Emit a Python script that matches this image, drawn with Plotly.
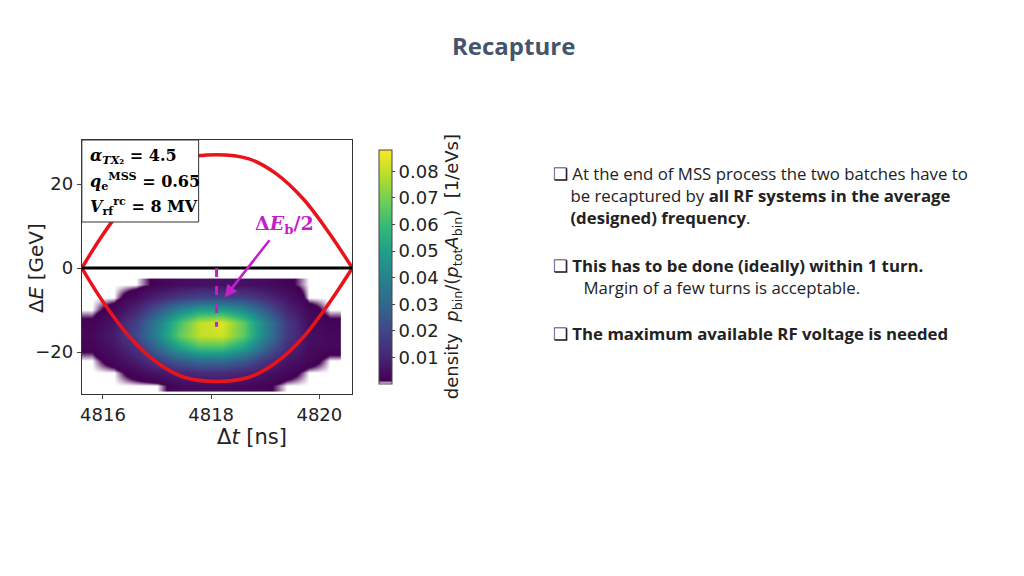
import plotly.graph_objects as go

t_bins = [4815.8,4816.2,4816.6,4817.0,4817.4,4817.8,4818.2,4818.6,4819.0,4819.4,4819.8,4820.2]
e_bins = [-28,-25,-22,-19,-16,-13,-10,-7,-4]
density = [
 [0,0,0,0,0.003,0.004,0.004,0.003,0.002,0,0,0],
 [0,0,0.003,0.006,0.010,0.012,0.012,0.010,0.006,0.003,0,0],
 [0,0.003,0.008,0.016,0.026,0.032,0.032,0.026,0.015,0.006,0.003,0],
 [0.002,0.006,0.014,0.030,0.050,0.062,0.062,0.050,0.030,0.012,0.004,0.003],
 [0.003,0.008,0.020,0.040,0.066,0.080,0.082,0.066,0.040,0.016,0.005,0.003],
 [0.002,0.006,0.018,0.038,0.062,0.080,0.084,0.066,0.040,0.016,0.004,0.002],
 [0,0.003,0.010,0.024,0.040,0.050,0.050,0.042,0.026,0.010,0.003,0],
 [0,0,0.004,0.010,0.016,0.020,0.020,0.018,0.012,0.006,0,0],
 [0,0,0,0.002,0.004,0.005,0.005,0.005,0.004,0.002,0,0],
]
sep_t = [4815.61,4816.0,4816.5,4817.0,4817.5,4818.1,4818.7,4819.2,4819.7,4820.2,4820.61]
sep_e = [0,8,16.5,22.5,26,27,26,22.5,16.5,8,0]
sep_e_low = [-v for v in sep_e]
eb_t = [4818.1,4818.1]
eb_e = [0,-14]
legend_lines = ["<b><i>α</i><sub><i>TX</i>₂</sub> = 4.5</b>",
                "<b><i>q</i><sub>e</sub><sup>MSS</sup> = 0.65</b>",
                "<b><i>V</i><sub>rf</sub><sup>rc</sup> = 8 MV</b>"]

OX, OY = 8, 8
def px(x): return (x-OX)/1024
def py(y): return 1-(y-OY)/576

vir = ["#440154","#482878","#3e4989","#31688e","#26828e","#1f9e89","#35b779","#6ece58","#b5de2b","#fde725"]
cs = [[0,"rgba(68,1,84,0)"],[0.015,"#440154"]] + [[0.015+0.985*i/9,c] for i,c in enumerate(vir)][1:]

fig = go.Figure()
fig.add_trace(go.Heatmap(x=t_bins,y=e_bins,z=density,colorscale=cs,zmin=0,zmax=0.088,
    zsmooth="best",
    colorbar=dict(x=px(368),xanchor="left",y=py(394),yanchor="bottom",len=254/576,lenmode="fraction",
        thickness=13,outlinewidth=1,tickvals=[0.01,0.02,0.03,0.04,0.05,0.06,0.07,0.08],
        tickfont=dict(size=18,family="DejaVu Sans",color="#222"),ticks="outside",ticklen=3)))
fig.add_trace(go.Scatter(x=sep_t,y=sep_e,mode="lines",line=dict(color="#E8141B",width=3.5,shape="spline"),showlegend=False))
fig.add_trace(go.Scatter(x=sep_t,y=sep_e_low,mode="lines",line=dict(color="#E8141B",width=3.5,shape="spline"),showlegend=False))
fig.add_trace(go.Scatter(x=[4815.61,4820.61],y=[0,0],mode="lines",line=dict(color="black",width=3),showlegend=False))
fig.add_trace(go.Scatter(x=eb_t,y=eb_e,mode="lines",line=dict(color="#C21FC8",width=3,dash="dash"),showlegend=False))

fig.add_annotation(x=4818.25,y=-7,ax=4819.1,ay=7,xref="x",yref="y",axref="x",ayref="y",
    showarrow=True,arrowhead=2,arrowwidth=2.5,arrowcolor="#C21FC8",text="")
fig.add_annotation(x=4819.35,y=7,xref="x",yref="y",text="<b>Δ<i>E</i><sub>b</sub>/2</b>",showarrow=False,
    font=dict(size=19,color="#C21FC8",family="DejaVu Serif"),yanchor="bottom")

fig.add_shape(type="rect",xref="paper",yref="paper",x0=px(80),x1=px(197),y0=py(222),y1=py(140),
    fillcolor="white",line=dict(color="#333",width=1),layer="above")
for i,(s,yy) in enumerate(zip(legend_lines,[156,181,206])):
    fig.add_annotation(x=px(86),y=py(yy),xref="paper",yref="paper",xanchor="left",yanchor="middle",
        text=s,showarrow=False,font=dict(size=16,family="DejaVu Serif",color="black"))

fig.add_annotation(x=px(512),y=py(45),xref="paper",yref="paper",text="<b>Recapture</b>",showarrow=False,
    yanchor="middle",font=dict(size=24,color="#44546A",family="Open Sans"))
fig.add_annotation(x=px(452),y=py(267),xref="paper",yref="paper",textangle=-90,showarrow=False,yanchor="middle",
    text="density  <i>p</i><sub>bin</sub>/(<i>p</i><sub>tot</sub><i>A</i><sub>bin</sub>)  [1/eVs]",
    font=dict(size=18,family="DejaVu Sans",color="#222"))
fig.add_annotation(x=px(20),y=py(268),xref="paper",yref="paper",textangle=-90,showarrow=False,yanchor="middle",
    text="Δ<i>E</i> [GeV]",font=dict(size=20,family="DejaVu Sans",color="#222"))
fig.add_annotation(x=px(213),y=py(437),xref="paper",yref="paper",showarrow=False,yanchor="middle",
    text="Δ<i>t</i> [ns]",font=dict(size=21,family="DejaVu Sans",color="#222"))

bf = dict(size=16.8,family="Open Sans",color="#222")
fig.add_annotation(x=px(550),y=py(160),xref="paper",yref="paper",xanchor="left",yanchor="top",align="left",showarrow=False,font=bf,
    text="❑ At the end of MSS process the two batches have to<br>    be recaptured by <b>all RF systems in the average</b><br>    <b>(designed) frequency</b>.")
fig.add_annotation(x=px(550),y=py(252),xref="paper",yref="paper",xanchor="left",yanchor="top",align="left",showarrow=False,font=bf,
    text="❑ <b>This has to be done (ideally) within 1 turn.</b><br>       Margin of a few turns is acceptable.")
fig.add_annotation(x=px(550),y=py(320),xref="paper",yref="paper",xanchor="left",yanchor="top",align="left",showarrow=False,font=bf,
    text="❑ <b>The maximum available RF voltage is needed</b>")

ax = dict(showgrid=False,zeroline=False,mirror=True,showline=True,linecolor="#333",linewidth=1,
    ticks="outside",ticklen=4,tickfont=dict(size=18,family="DejaVu Sans",color="#222"))
fig.update_layout(width=1024,height=576,margin=dict(l=0,r=0,t=0,b=0),plot_bgcolor="white",paper_bgcolor="white",
    showlegend=False,
    xaxis=dict(ax,domain=[px(80),px(351)],range=[4815.61,4820.61],tickvals=[4816,4818,4820]),
    yaxis=dict(ax,domain=[py(394),py(140)],range=[-30,30.5],tickvals=[-20,0,20],ticktext=["−20","0","20"]))
fig.write_html("out.html")
